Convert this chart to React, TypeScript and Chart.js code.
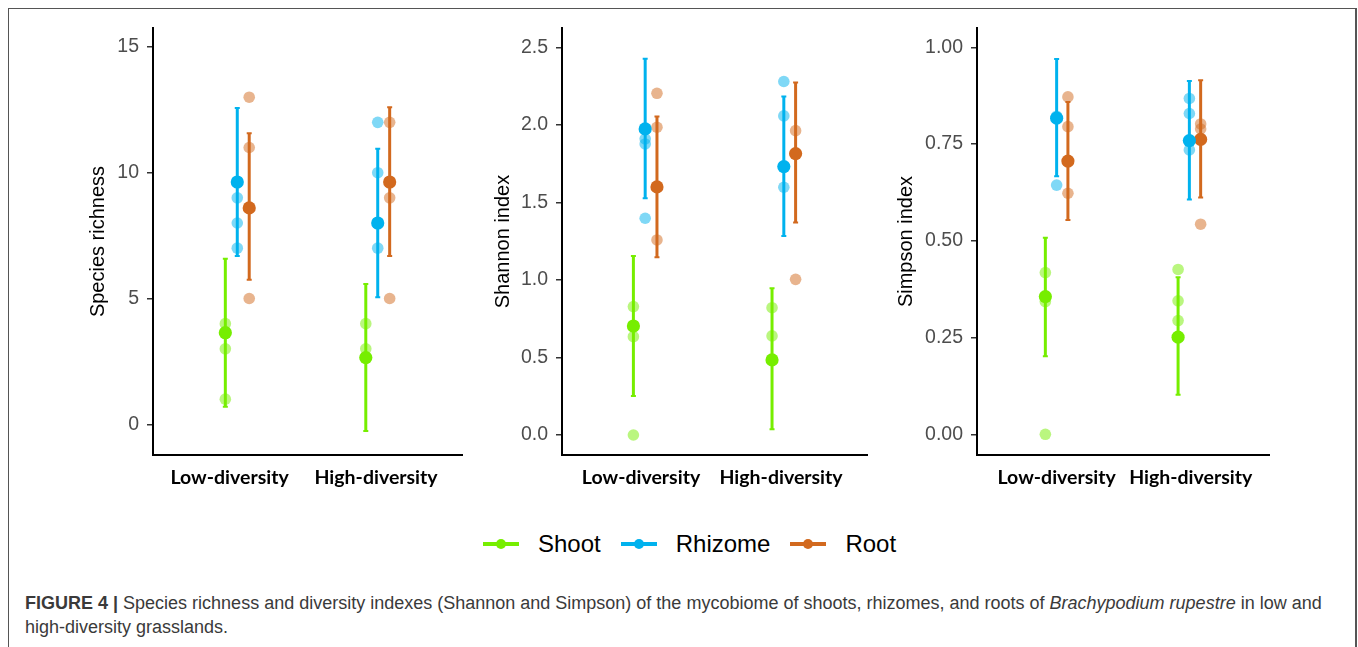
import React, { useEffect, useRef } from "react";
import { Chart, registerables } from "chart.js";

Chart.register(...registerables);

// ---------- data ----------
const groups = ["Low-diversity", "High-diversity"];
const tissues = ["Shoot", "Rhizome", "Root"];
const tissueColors = ["#76EE00", "#00B2EE", "#D2691E"];
const tissueLight = ["rgba(118,238,0,0.5)", "rgba(0,178,238,0.5)", "rgba(210,105,30,0.5)"];
const dodge = [-0.085, 0, 0.085];

// rows: Shoot, Rhizome, Root ; columns: Low, High
const richnessTicks = [0, 5, 10, 15];
const richnessMean = [[3.64, 2.65], [9.63, 8.0], [8.6, 9.63]];
const richnessLower = [[0.7, -0.27], [6.69, 5.05], [5.74, 6.69]];
const richnessUpper = [[6.58, 5.58], [12.57, 10.95], [11.57, 12.6]];
const richnessSamples = [
  [[4, 3, 1], [4, 3]],
  [[9, 8, 7], [12, 10, 7]],
  [[13, 11, 5], [12, 9, 5]],
];

const shannonTicks = [0, 0.5, 1.0, 1.5, 2.0, 2.5];
const shannonMean = [[0.703, 0.484], [1.974, 1.731], [1.6, 1.815]];
const shannonLower = [[0.252, 0.037], [1.527, 1.284], [1.146, 1.37]];
const shannonUpper = [[1.155, 0.946], [2.426, 2.183], [2.054, 2.273]];
const shannonSamples = [
  [[0.828, 0.634, 0.0], [0.821, 0.639]],
  [[1.91, 1.877, 1.398], [2.28, 2.058, 1.598]],
  [[2.204, 1.985, 1.258], [1.963, 1.004]],
];

const simpsonTicks = [0, 0.25, 0.5, 0.75, 1.0];
const simpsonMean = [[0.356, 0.251], [0.817, 0.759], [0.706, 0.762]];
const simpsonLower = [[0.202, 0.102], [0.667, 0.607], [0.554, 0.612]];
const simpsonUpper = [[0.508, 0.406], [0.97, 0.913], [0.859, 0.915]];
const simpsonSamples = [
  [[0.418, 0.343, 0.0], [0.426, 0.345, 0.294]],
  [[0.822, 0.644], [0.868, 0.829, 0.735]],
  [[0.872, 0.795, 0.623], [0.802, 0.789, 0.543]],
];

// ---------- panels ----------
type Panel = {
  title: string;
  ticks: number[];
  decimals: number;
  mean: number[][];
  lower: number[][];
  upper: number[][];
  samples: number[][][];
  yMin: number;
  yMax: number;
  left: number;
  width: number;
  axisWidth: number;
  padRight: number;
  titlePad: number;
  labelShift: number[];
};

const panels: Panel[] = [
  {
    title: "Species richness", ticks: richnessTicks, decimals: 0,
    mean: richnessMean, lower: richnessLower, upper: richnessUpper, samples: richnessSamples,
    yMin: -1.22, yMax: 15.75, left: 0, width: 470, axisWidth: 153, padRight: 8, titlePad: 86,
    labelShift: [-0.055, -0.012],
  },
  {
    title: "Shannon index", ticks: shannonTicks, decimals: 1,
    mean: shannonMean, lower: shannonLower, upper: shannonUpper, samples: shannonSamples,
    yMin: -0.129, yMax: 2.625, left: 470, width: 400, axisWidth: 92, padRight: 3, titlePad: 21,
    labelShift: [-0.03, -0.02],
  },
  {
    title: "Simpson index", ticks: simpsonTicks, decimals: 2,
    mean: simpsonMean, lower: simpsonLower, upper: simpsonUpper, samples: simpsonSamples,
    yMin: -0.0535, yMax: 1.05, left: 870, width: 488, axisWidth: 107, padRight: 89, titlePad: 24,
    labelShift: [0, 0.01],
  },
];

const CANVAS_H = 500;
const PLOT_TOP = 28;
const PLOT_BOTTOM = 455;

const errorBarPlugin = {
  id: "errorBars",
  beforeDatasetDraw(chart: any, args: any) {
    const ds = chart.data.datasets[args.index];
    if (!ds.isMean) return;
    const { ctx } = chart;
    const x = chart.scales.x;
    const y = chart.scales.y;
    ctx.save();
    ctx.strokeStyle = ds.barColor;
    for (const p of ds.data) {
      const px = x.getPixelForValue(p.x);
      const y1 = y.getPixelForValue(p.lo);
      const y2 = y.getPixelForValue(p.hi);
      ctx.lineWidth = 3;
      ctx.lineCap = "butt";
      ctx.beginPath();
      ctx.moveTo(px, y1);
      ctx.lineTo(px, y2);
      ctx.stroke();
      ctx.lineWidth = 2;
      ctx.beginPath();
      ctx.moveTo(px - 2.5, y1);
      ctx.lineTo(px + 2.5, y1);
      ctx.moveTo(px - 2.5, y2);
      ctx.lineTo(px + 2.5, y2);
      ctx.stroke();
    }
    ctx.restore();
  },
};

function buildDatasets(p: Panel) {
  const sets: any[] = [];
  tissues.forEach((t, ti) => {
    const pts: any[] = [];
    p.samples[ti].forEach((vals, gi) => {
      vals.forEach((v) => pts.push({ x: gi + 1 + dodge[ti], y: v }));
    });
    sets.push({
      label: t + " samples",
      data: pts,
      backgroundColor: tissueLight[ti],
      borderWidth: 0,
      pointRadius: 5.8,
      order: 2,
    });
  });
  tissues.forEach((t, ti) => {
    const pts = groups.map((_, gi) => ({
      x: gi + 1 + dodge[ti],
      y: p.mean[ti][gi],
      lo: p.lower[ti][gi],
      hi: p.upper[ti][gi],
    }));
    sets.push({
      label: t,
      data: pts,
      backgroundColor: tissueColors[ti],
      borderWidth: 0,
      pointRadius: 6.6,
      order: 1,
      isMean: true,
      barColor: tissueColors[ti],
    });
  });
  return sets;
}

function PanelChart({ p }: { p: Panel }) {
  const ref = useRef<HTMLCanvasElement | null>(null);
  useEffect(() => {
    if (!ref.current) return;
    const chart = new Chart(ref.current, {
      type: "scatter",
      data: { datasets: buildDatasets(p) },
      plugins: [errorBarPlugin],
      options: {
        animation: false,
        responsive: false,
        events: [],
        layout: { autoPadding: false, padding: { top: PLOT_TOP, right: p.padRight, left: 0, bottom: 0 } },
        plugins: { legend: { display: false }, tooltip: { enabled: false } },
        scales: {
          x: {
            type: "linear",
            min: 0.4,
            max: 2.6,
            afterBuildTicks: (s: any) => {
              s.ticks = groups.map((_, i) => ({ value: i + 1 + p.labelShift[i] }));
            },
            afterFit: (s: any) => {
              s.height = CANVAS_H - PLOT_BOTTOM;
            },
            ticks: {
              callback: (_v: any, index: number) => groups[index] ?? "",
              color: "#000",
              padding: 11,
              maxRotation: 0,
              autoSkip: false,
              font: { family: "Lato, 'Open Sans', sans-serif", size: 19.5, weight: "bold" },
            },
            grid: { display: true, drawOnChartArea: false, drawTicks: false },
            border: { display: true, color: "#000", width: 2 },
          },
          y: {
            min: p.yMin,
            max: p.yMax,
            afterBuildTicks: (s: any) => {
              s.ticks = p.ticks.map((v) => ({ value: v }));
            },
            afterFit: (s: any) => {
              s.width = p.axisWidth;
            },
            ticks: {
              callback: (v: any) => Number(v).toFixed(p.decimals),
              color: "#4D4D4D",
              padding: 8,
              font: { family: "'Liberation Sans', Arial, sans-serif", size: 19.5 },
            },
            grid: { display: true, drawOnChartArea: false, drawTicks: true, tickLength: 6, color: "#333", lineWidth: 1.5 },
            border: { display: true, color: "#000", width: 2 },
            title: {
              display: true,
              text: p.title,
              color: "#000",
              padding: { top: p.titlePad, bottom: 0 },
              font: { family: "'Liberation Sans', Arial, sans-serif", size: 20 },
            },
          },
        },
      } as any,
    });
    return () => chart.destroy();
  }, [p]);
  return (
    <canvas
      ref={ref}
      width={p.width}
      height={CANVAS_H}
      style={{ position: "absolute", left: p.left, top: 0, width: p.width, height: CANVAS_H }}
    />
  );
}

function Legend() {
  return (
    <div
      style={{
        position: "absolute",
        left: 483,
        top: 544,
        transform: "translateY(-50%)",
        display: "flex",
        alignItems: "center",
        fontFamily: "'Liberation Sans', Arial, sans-serif",
        fontSize: 24,
        color: "#000",
        whiteSpace: "nowrap",
      }}
    >
      {tissues.map((t, i) => (
        <div key={t} style={{ display: "flex", alignItems: "center", marginRight: i < 2 ? 20 : 0 }}>
          <div style={{ position: "relative", width: 36, height: 4, background: tissueColors[i] }}>
            <div
              style={{
                position: "absolute",
                left: 13,
                top: -3,
                width: 10,
                height: 10,
                borderRadius: "50%",
                background: tissueColors[i],
              }}
            />
          </div>
          <span style={{ marginLeft: 19 }}>{t}</span>
        </div>
      ))}
    </div>
  );
}

export default function App() {
  return (
    <div
      style={{
        position: "absolute",
        left: 0,
        top: 0,
        width: 1358,
        height: 647,
        overflow: "hidden",
        background: "#fff",
      }}
    >
      <div
        style={{
          position: "absolute",
          left: 8,
          top: 8,
          width: 1346,
          height: 700,
          borderLeft: "1px solid #555",
          borderTop: "1px solid #555",
          borderRight: "2px solid #555",
        }}
      />
      {panels.map((p) => (
        <PanelChart key={p.title} p={p} />
      ))}
      <Legend />
      <div
        style={{
          position: "absolute",
          left: 25,
          top: 591,
          fontFamily: "'Liberation Sans', Arial, sans-serif",
          fontSize: 18,
          lineHeight: "24px",
          color: "#3a3a3a",
          whiteSpace: "nowrap",
        }}
      >
        <b>FIGURE 4 |</b> Species richness and diversity indexes (Shannon and Simpson) of the mycobiome of shoots,
        rhizomes, and roots of <i>Brachypodium rupestre</i> in low and
        <br />
        high-diversity grasslands.
      </div>
    </div>
  );
}
